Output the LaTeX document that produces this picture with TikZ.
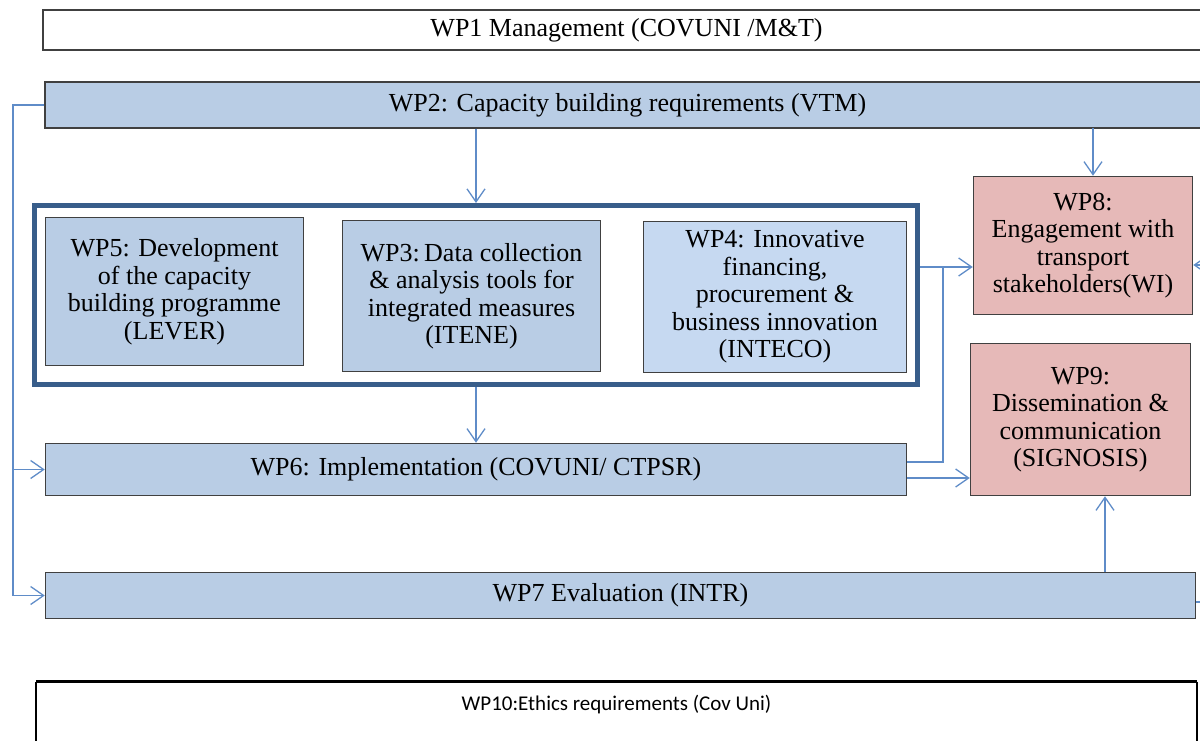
\documentclass[tikz,border=0pt]{standalone}
\usepackage{fontspec}
\setmainfont{Liberation Serif}
\newfontfamily\calibri{Carlito}
\usetikzlibrary{arrows.meta}
\definecolor{wpblue}{RGB}{185,205,229}
\definecolor{wppale}{RGB}{198,217,241}
\definecolor{wppink}{RGB}{230,185,184}
\definecolor{wpframe}{RGB}{56,93,138}
\definecolor{wpline}{RGB}{95,140,200}
\definecolor{wpedge}{RGB}{64,64,64}
\begin{document}
\begin{tikzpicture}[x=1pt,y=-1pt,
  wp/.style={draw=wpedge,line width=1.5pt,fill=wpblue,align=center,inner sep=0pt,font=\fontsize{26}{27.5}\selectfont},
  flow/.style={draw=wpline,line width=1.3pt,-{Straight Barb[length=13pt,width=18pt]}},
  link/.style={draw=wpline,line width=1.3pt}]
\useasboundingbox (0,0) rectangle (1200,741);
\clip (0,0) rectangle (1200,741);

\path (626.5,30) node[wp,fill=white,minimum width=1167,minimum height=40](wpone){WP1 Management (COVUNI /M\&T)}
(627.5,105) node[wp,minimum width=1165,minimum height=46](wptwo){WP2: Capacity building requirements (VTM)}
(476,295) node[draw=wpframe,line width=5pt,minimum width=883,minimum height=179](core){}
(174.5,291.5) node[wp,minimum width=258,minimum height=148](wpfive){WP5: Development\\of the capacity\\building programme\\(LEVER)}
(471.5,296) node[wp,minimum width=258,minimum height=151](wpthree){WP3:\,Data collection\\\& analysis tools for\\integrated measures\\(ITENE)}
(775,297) node[wp,fill=wppale,minimum width=263,minimum height=151](wpfour){WP4: Innovative\\financing,\\procurement \&\\business innovation\\(INTECO)}
(476,469.5) node[wp,minimum width=861,minimum height=52](wpsix){WP6: Implementation (COVUNI/ CTPSR)}
(620.5,595.5) node[wp,minimum width=1150,minimum height=46](wpseven){WP7 Evaluation (INTR)}
(1083,245.5) node[wp,fill=wppink,minimum width=219,minimum height=138](wpeight){WP8:\\Engagement with\\transport\\stakeholders(WI)}
(1080.5,419.5) node[wp,fill=wppink,minimum width=220,minimum height=152](wpnine){WP9:\\Dissemination \&\\communication\\(SIGNOSIS)}
(616.5,705) node[minimum width=1161,minimum height=46,inner sep=0pt,font=\calibri\fontsize{21}{24}\selectfont](wpten){WP10:Ethics requirements (Cov Uni)};

\draw[line width=1.5pt] (wpten.north west |- 0,760) -- (wpten.north west);
\draw[line width=1.5pt] (wpten.north east |- 0,760) -- (wpten.north east);
\draw[line width=3pt] (wpten.north west) -- (wpten.north east);

\coordinate (fb) at (13,105);
\coordinate (tapeight) at (1093,128);
\coordinate (jn) at (943,267);
\coordinate (sixout) at (907,462);
\coordinate (ninein) at (907,478);
\coordinate (sevenup) at (1105,572);
\coordinate (offeight) at (1230,265);
\coordinate (offseven) at (1230,602);

\draw[link] (wptwo.west) -- (fb) -- (fb |- wpseven.west);
\draw[flow] (fb |- wpsix.west) -- (wpsix.west);
\draw[flow] (fb |- wpseven.west) -- (wpseven.west);
\draw[flow] (wptwo.south -| core.north) -- (core.north);
\draw[flow] (tapeight) -- (tapeight |- wpeight.north);
\draw[flow] (core.south) -- (core.south |- wpsix.north);
\draw[flow] (core.east |- jn) -- (wpeight.west |- jn);
\draw[link] (sixout) -| (jn);
\draw[flow] (ninein) -- (wpnine.west |- ninein);
\draw[flow] (sevenup) -- (sevenup |- wpnine.south);
\draw[flow] (offeight) -- (wpeight.east |- offeight);
\draw[link] (wpseven.east |- offseven) -- (offseven);
\end{tikzpicture}
\end{document}
